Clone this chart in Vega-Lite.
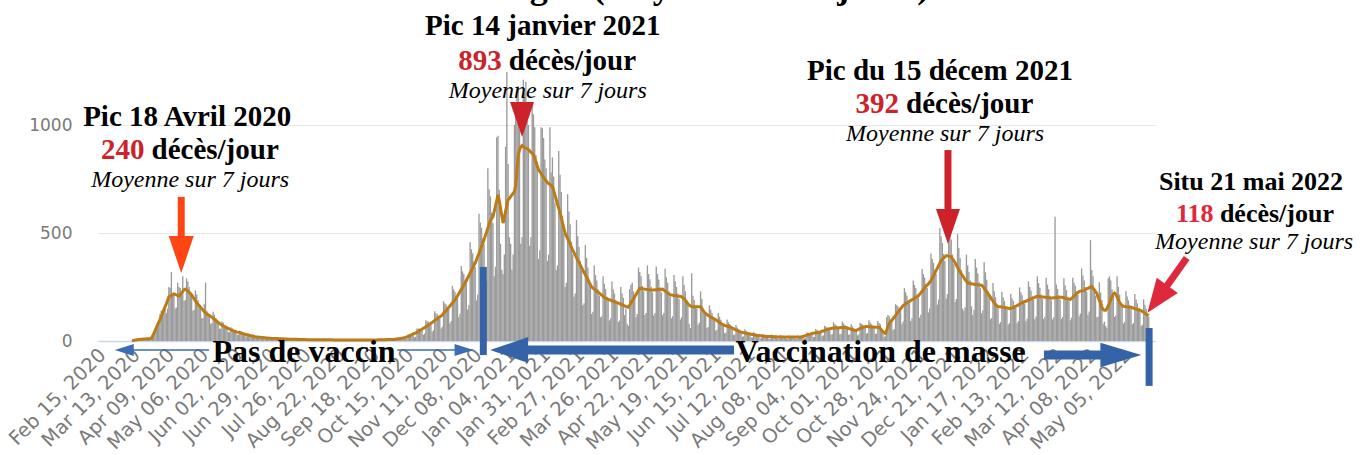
{
"$schema":"https://vega.github.io/schema/vega-lite/v6.json",
"width":1057,"height":270,
"autosize":{"type":"none"},
"padding":{"left":98,"top":71,"right":206,"bottom":114},
"background":"white",
"config":{"view":{"stroke":null}},
"datasets":{
"daily":[
{"d":"2020-03-09","v":2,"a":1},{"d":"2020-03-10","v":1,"a":2},{"d":"2020-03-11","v":3,"a":4},{"d":"2020-03-12","v":5,"a":5},{"d":"2020-03-13","v":8,"a":6},{"d":"2020-03-14","v":6,"a":7},{"d":"2020-03-15","v":5,"a":7},{"d":"2020-03-16","v":6,"a":8},{"d":"2020-03-17","v":10,"a":8},{"d":"2020-03-18","v":11,"a":9},{"d":"2020-03-19","v":10,"a":9},{"d":"2020-03-20","v":10,"a":9},{"d":"2020-03-21","v":10,"a":10},{"d":"2020-03-22","v":8,"a":10},{"d":"2020-03-23","v":9,"a":10},{"d":"2020-03-24","v":18,"a":14},{"d":"2020-03-25","v":28,"a":20},{"d":"2020-03-26","v":40,"a":33},{"d":"2020-03-27","v":55,"a":46},{"d":"2020-03-28","v":68,"a":60},{"d":"2020-03-29","v":60,"a":73},{"d":"2020-03-30","v":75,"a":86},{"d":"2020-03-31","v":125,"a":99},
{"d":"2020-04-01","v":140,"a":112},{"d":"2020-04-02","v":145,"a":128},{"d":"2020-04-03","v":150,"a":143},{"d":"2020-04-04","v":165,"a":158},{"d":"2020-04-05","v":130,"a":172},{"d":"2020-04-06","v":150,"a":187},{"d":"2020-04-07","v":250,"a":205},{"d":"2020-04-08","v":245,"a":208},{"d":"2020-04-09","v":320,"a":211},{"d":"2020-04-10","v":215,"a":215},{"d":"2020-04-11","v":210,"a":218},{"d":"2020-04-12","v":150,"a":216},{"d":"2020-04-13","v":155,"a":213},{"d":"2020-04-14","v":270,"a":210},{"d":"2020-04-15","v":250,"a":208},{"d":"2020-04-16","v":245,"a":215},{"d":"2020-04-17","v":230,"a":222},{"d":"2020-04-18","v":300,"a":230},{"d":"2020-04-19","v":185,"a":237},{"d":"2020-04-20","v":190,"a":240},{"d":"2020-04-21","v":290,"a":236},{"d":"2020-04-22","v":275,"a":231},{"d":"2020-04-23","v":250,"a":226},{"d":"2020-04-24","v":225,"a":220},{"d":"2020-04-25","v":205,"a":213},{"d":"2020-04-26","v":140,"a":204},{"d":"2020-04-27","v":145,"a":195},{"d":"2020-04-28","v":235,"a":186},{"d":"2020-04-29","v":215,"a":176},{"d":"2020-04-30","v":190,"a":170},
{"d":"2020-05-01","v":165,"a":164},{"d":"2020-05-02","v":155,"a":157},{"d":"2020-05-03","v":105,"a":150},{"d":"2020-05-04","v":105,"a":143},{"d":"2020-05-05","v":170,"a":136},{"d":"2020-05-06","v":270,"a":130},{"d":"2020-05-07","v":140,"a":126},{"d":"2020-05-08","v":120,"a":122},{"d":"2020-05-09","v":118,"a":118},{"d":"2020-05-10","v":80,"a":114},{"d":"2020-05-11","v":82,"a":110},{"d":"2020-05-12","v":135,"a":106},{"d":"2020-05-13","v":122,"a":101},{"d":"2020-05-14","v":105,"a":96},{"d":"2020-05-15","v":91,"a":91},{"d":"2020-05-16","v":86,"a":86},{"d":"2020-05-17","v":57,"a":81},{"d":"2020-05-18","v":58,"a":77},{"d":"2020-05-19","v":92,"a":73},{"d":"2020-05-20","v":84,"a":70},{"d":"2020-05-21","v":74,"a":67},{"d":"2020-05-22","v":64,"a":64},{"d":"2020-05-23","v":61,"a":61},{"d":"2020-05-24","v":41,"a":58},{"d":"2020-05-25","v":41,"a":55},{"d":"2020-05-26","v":64,"a":51},{"d":"2020-05-27","v":59,"a":49},{"d":"2020-05-28","v":52,"a":47},{"d":"2020-05-29","v":45,"a":45},{"d":"2020-05-30","v":43,"a":43},{"d":"2020-05-31","v":29,"a":41},
{"d":"2020-06-01","v":30,"a":40},{"d":"2020-06-02","v":49,"a":39},{"d":"2020-06-03","v":44,"a":37},{"d":"2020-06-04","v":39,"a":35},{"d":"2020-06-05","v":34,"a":34},{"d":"2020-06-06","v":32,"a":32},{"d":"2020-06-07","v":21,"a":30},{"d":"2020-06-08","v":22,"a":29},{"d":"2020-06-09","v":34,"a":27},{"d":"2020-06-10","v":31,"a":26},{"d":"2020-06-11","v":26,"a":24},{"d":"2020-06-12","v":23,"a":23},{"d":"2020-06-13","v":22,"a":22},{"d":"2020-06-14","v":14,"a":20},{"d":"2020-06-15","v":14,"a":19},{"d":"2020-06-16","v":24,"a":19},{"d":"2020-06-17","v":22,"a":18},{"d":"2020-06-18","v":19,"a":17},{"d":"2020-06-19","v":16,"a":16},{"d":"2020-06-20","v":16,"a":16},{"d":"2020-06-21","v":10,"a":15},{"d":"2020-06-22","v":11,"a":15},{"d":"2020-06-23","v":18,"a":14},{"d":"2020-06-24","v":17,"a":14},{"d":"2020-06-25","v":14,"a":13},{"d":"2020-06-26","v":13,"a":13},{"d":"2020-06-27","v":12,"a":12},{"d":"2020-06-28","v":8,"a":12},{"d":"2020-06-29","v":9,"a":12},{"d":"2020-06-30","v":14,"a":11},
{"d":"2020-07-01","v":13,"a":11},{"d":"2020-07-02","v":12,"a":11},{"d":"2020-07-03","v":10,"a":10},{"d":"2020-07-04","v":10,"a":10},{"d":"2020-07-05","v":7,"a":10},{"d":"2020-07-06","v":7,"a":10},{"d":"2020-07-07","v":12,"a":9},{"d":"2020-07-08","v":11,"a":9},{"d":"2020-07-09","v":10,"a":9},{"d":"2020-07-10","v":9,"a":9},{"d":"2020-07-11","v":8,"a":8},{"d":"2020-07-12","v":5,"a":8},{"d":"2020-07-13","v":6,"a":8},{"d":"2020-07-14","v":10,"a":8},{"d":"2020-07-15","v":10,"a":8},{"d":"2020-07-16","v":9,"a":8},{"d":"2020-07-17","v":8,"a":8},{"d":"2020-07-18","v":7,"a":7},{"d":"2020-07-19","v":5,"a":7},{"d":"2020-07-20","v":5,"a":7},{"d":"2020-07-21","v":9,"a":7},{"d":"2020-07-22","v":8,"a":7},{"d":"2020-07-23","v":8,"a":7},{"d":"2020-07-24","v":7,"a":7},{"d":"2020-07-25","v":6,"a":6},{"d":"2020-07-26","v":4,"a":6},{"d":"2020-07-27","v":4,"a":6},{"d":"2020-07-28","v":8,"a":6},{"d":"2020-07-29","v":7,"a":6},{"d":"2020-07-30","v":7,"a":6},{"d":"2020-07-31","v":6,"a":6},
{"d":"2020-08-01","v":6,"a":6},{"d":"2020-08-02","v":4,"a":6},{"d":"2020-08-03","v":4,"a":6},{"d":"2020-08-04","v":8,"a":6},{"d":"2020-08-05","v":7,"a":6},{"d":"2020-08-06","v":7,"a":6},{"d":"2020-08-07","v":6,"a":6},{"d":"2020-08-08","v":6,"a":6},{"d":"2020-08-09","v":4,"a":6},{"d":"2020-08-10","v":4,"a":6},{"d":"2020-08-11","v":8,"a":6},{"d":"2020-08-12","v":7,"a":6},{"d":"2020-08-13","v":7,"a":6},{"d":"2020-08-14","v":6,"a":6},{"d":"2020-08-15","v":5,"a":5},{"d":"2020-08-16","v":3,"a":5},{"d":"2020-08-17","v":4,"a":5},{"d":"2020-08-18","v":7,"a":5},{"d":"2020-08-19","v":6,"a":5},{"d":"2020-08-20","v":6,"a":5},{"d":"2020-08-21","v":4,"a":5},{"d":"2020-08-22","v":5,"a":5},{"d":"2020-08-23","v":3,"a":5},{"d":"2020-08-24","v":4,"a":5},{"d":"2020-08-25","v":7,"a":5},{"d":"2020-08-26","v":6,"a":5},{"d":"2020-08-27","v":6,"a":5},{"d":"2020-08-28","v":4,"a":5},{"d":"2020-08-29","v":5,"a":5},{"d":"2020-08-30","v":3,"a":5},{"d":"2020-08-31","v":4,"a":5},
{"d":"2020-09-01","v":7,"a":5},{"d":"2020-09-02","v":6,"a":5},{"d":"2020-09-03","v":6,"a":5},{"d":"2020-09-04","v":4,"a":5},{"d":"2020-09-05","v":5,"a":5},{"d":"2020-09-06","v":3,"a":5},{"d":"2020-09-07","v":4,"a":5},{"d":"2020-09-08","v":7,"a":5},{"d":"2020-09-09","v":6,"a":5},{"d":"2020-09-10","v":6,"a":5},{"d":"2020-09-11","v":4,"a":5},{"d":"2020-09-12","v":5,"a":5},{"d":"2020-09-13","v":3,"a":5},{"d":"2020-09-14","v":4,"a":5},{"d":"2020-09-15","v":7,"a":5},{"d":"2020-09-16","v":6,"a":5},{"d":"2020-09-17","v":6,"a":5},{"d":"2020-09-18","v":4,"a":5},{"d":"2020-09-19","v":6,"a":6},{"d":"2020-09-20","v":4,"a":6},{"d":"2020-09-21","v":4,"a":6},{"d":"2020-09-22","v":8,"a":6},{"d":"2020-09-23","v":7,"a":6},{"d":"2020-09-24","v":7,"a":6},{"d":"2020-09-25","v":6,"a":6},{"d":"2020-09-26","v":7,"a":7},{"d":"2020-09-27","v":5,"a":7},{"d":"2020-09-28","v":5,"a":7},{"d":"2020-09-29","v":9,"a":7},{"d":"2020-09-30","v":8,"a":7},
{"d":"2020-10-01","v":8,"a":7},{"d":"2020-10-02","v":7,"a":7},{"d":"2020-10-03","v":8,"a":8},{"d":"2020-10-04","v":4,"a":9},{"d":"2020-10-05","v":5,"a":10},{"d":"2020-10-06","v":16,"a":11},{"d":"2020-10-07","v":16,"a":12},{"d":"2020-10-08","v":16,"a":13},{"d":"2020-10-09","v":15,"a":14},{"d":"2020-10-10","v":14,"a":15},{"d":"2020-10-11","v":8,"a":17},{"d":"2020-10-12","v":10,"a":19},{"d":"2020-10-13","v":30,"a":21},{"d":"2020-10-14","v":31,"a":24},{"d":"2020-10-15","v":32,"a":27},{"d":"2020-10-16","v":32,"a":30},{"d":"2020-10-17","v":31,"a":33},{"d":"2020-10-18","v":17,"a":35},{"d":"2020-10-19","v":20,"a":37},{"d":"2020-10-20","v":58,"a":40},{"d":"2020-10-21","v":57,"a":44},{"d":"2020-10-22","v":58,"a":48},{"d":"2020-10-23","v":54,"a":51},{"d":"2020-10-24","v":52,"a":55},{"d":"2020-10-25","v":29,"a":59},{"d":"2020-10-26","v":34,"a":62},{"d":"2020-10-27","v":96,"a":66},{"d":"2020-10-28","v":91,"a":70},{"d":"2020-10-29","v":89,"a":74},{"d":"2020-10-30","v":82,"a":78},{"d":"2020-10-31","v":78,"a":82},
{"d":"2020-11-01","v":43,"a":86},{"d":"2020-11-02","v":50,"a":90},{"d":"2020-11-03","v":138,"a":95},{"d":"2020-11-04","v":129,"a":99},{"d":"2020-11-05","v":124,"a":103},{"d":"2020-11-06","v":113,"a":108},{"d":"2020-11-07","v":106,"a":112},{"d":"2020-11-08","v":58,"a":116},{"d":"2020-11-09","v":66,"a":120},{"d":"2020-11-10","v":184,"a":127},{"d":"2020-11-11","v":174,"a":134},{"d":"2020-11-12","v":169,"a":141},{"d":"2020-11-13","v":155,"a":148},{"d":"2020-11-14","v":147,"a":155},{"d":"2020-11-15","v":81,"a":162},{"d":"2020-11-16","v":93,"a":169},{"d":"2020-11-17","v":255,"a":176},{"d":"2020-11-18","v":238,"a":183},{"d":"2020-11-19","v":228,"a":190},{"d":"2020-11-20","v":210,"a":200},{"d":"2020-11-21","v":199,"a":209},{"d":"2020-11-22","v":110,"a":219},{"d":"2020-11-23","v":126,"a":229},{"d":"2020-11-24","v":347,"a":239},{"d":"2020-11-25","v":322,"a":248},{"d":"2020-11-26","v":310,"a":258},{"d":"2020-11-27","v":281,"a":268},{"d":"2020-11-28","v":266,"a":280},{"d":"2020-11-29","v":146,"a":292},{"d":"2020-11-30","v":167,"a":303},
{"d":"2020-12-01","v":457,"a":315},{"d":"2020-12-02","v":425,"a":327},{"d":"2020-12-03","v":406,"a":338},{"d":"2020-12-04","v":368,"a":350},{"d":"2020-12-05","v":343,"a":361},{"d":"2020-12-06","v":188,"a":376},{"d":"2020-12-07","v":215,"a":391},{"d":"2020-12-08","v":589,"a":406},{"d":"2020-12-09","v":549,"a":422},{"d":"2020-12-10","v":524,"a":437},{"d":"2020-12-11","v":476,"a":453},{"d":"2020-12-12","v":447,"a":470},{"d":"2020-12-13","v":244,"a":488},{"d":"2020-12-14","v":278,"a":505},{"d":"2020-12-15","v":800,"a":523},{"d":"2020-12-16","v":702,"a":540},{"d":"2020-12-17","v":670,"a":558},{"d":"2020-12-18","v":594,"a":566},{"d":"2020-12-19","v":546,"a":575},{"d":"2020-12-20","v":300,"a":600},{"d":"2020-12-21","v":344,"a":625},{"d":"2020-12-22","v":943,"a":650},{"d":"2020-12-23","v":950,"a":677},{"d":"2020-12-24","v":700,"a":650},{"d":"2020-12-25","v":450,"a":615},{"d":"2020-12-26","v":330,"a":580},{"d":"2020-12-27","v":310,"a":546},{"d":"2020-12-28","v":400,"a":570},{"d":"2020-12-29","v":900,"a":600},{"d":"2020-12-30","v":1245,"a":628},{"d":"2020-12-31","v":820,"a":654},
{"d":"2021-01-01","v":480,"a":660},{"d":"2021-01-02","v":450,"a":668},{"d":"2021-01-03","v":330,"a":676},{"d":"2021-01-04","v":400,"a":684},{"d":"2021-01-05","v":1000,"a":693},{"d":"2021-01-06","v":1050,"a":720},{"d":"2021-01-07","v":1150,"a":790},{"d":"2021-01-08","v":1180,"a":860},{"d":"2021-01-09","v":980,"a":886},{"d":"2021-01-10","v":450,"a":898},{"d":"2021-01-11","v":480,"a":905},{"d":"2021-01-12","v":1210,"a":900},{"d":"2021-01-13","v":1150,"a":896},{"d":"2021-01-14","v":1200,"a":893},{"d":"2021-01-15","v":1100,"a":890},{"d":"2021-01-16","v":1000,"a":886},{"d":"2021-01-17","v":440,"a":880},{"d":"2021-01-18","v":480,"a":874},{"d":"2021-01-19","v":1090,"a":869},{"d":"2021-01-20","v":1050,"a":863},{"d":"2021-01-21","v":990,"a":845},{"d":"2021-01-22","v":860,"a":828},{"d":"2021-01-23","v":830,"a":810},{"d":"2021-01-24","v":380,"a":793},{"d":"2021-01-25","v":420,"a":784},{"d":"2021-01-26","v":990,"a":776},{"d":"2021-01-27","v":985,"a":767},{"d":"2021-01-28","v":940,"a":758},{"d":"2021-01-29","v":840,"a":750},{"d":"2021-01-30","v":800,"a":742},{"d":"2021-01-31","v":370,"a":733},
{"d":"2021-02-01","v":400,"a":729},{"d":"2021-02-02","v":990,"a":725},{"d":"2021-02-03","v":780,"a":720},{"d":"2021-02-04","v":850,"a":716},{"d":"2021-02-05","v":760,"a":696},{"d":"2021-02-06","v":640,"a":675},{"d":"2021-02-07","v":330,"a":655},{"d":"2021-02-08","v":350,"a":634},{"d":"2021-02-09","v":880,"a":614},{"d":"2021-02-10","v":770,"a":593},{"d":"2021-02-11","v":690,"a":570},{"d":"2021-02-12","v":580,"a":547},{"d":"2021-02-13","v":500,"a":523},{"d":"2021-02-14","v":250,"a":500},{"d":"2021-02-15","v":270,"a":487},{"d":"2021-02-16","v":680,"a":474},{"d":"2021-02-17","v":600,"a":461},{"d":"2021-02-18","v":540,"a":447},{"d":"2021-02-19","v":460,"a":434},{"d":"2021-02-20","v":400,"a":421},{"d":"2021-02-21","v":205,"a":409},{"d":"2021-02-22","v":220,"a":398},{"d":"2021-02-23","v":560,"a":386},{"d":"2021-02-24","v":485,"a":374},{"d":"2021-02-25","v":435,"a":363},{"d":"2021-02-26","v":370,"a":351},{"d":"2021-02-27","v":325,"a":340},{"d":"2021-02-28","v":165,"a":328},
{"d":"2021-03-01","v":175,"a":317},{"d":"2021-03-02","v":445,"a":306},{"d":"2021-03-03","v":385,"a":295},{"d":"2021-03-04","v":340,"a":284},{"d":"2021-03-05","v":285,"a":272},{"d":"2021-03-06","v":250,"a":261},{"d":"2021-03-07","v":125,"a":250},{"d":"2021-03-08","v":135,"a":245},{"d":"2021-03-09","v":350,"a":240},{"d":"2021-03-10","v":305,"a":236},{"d":"2021-03-11","v":280,"a":231},{"d":"2021-03-12","v":240,"a":226},{"d":"2021-03-13","v":210,"a":221},{"d":"2021-03-14","v":110,"a":217},{"d":"2021-03-15","v":115,"a":212},{"d":"2021-03-16","v":300,"a":207},{"d":"2021-03-17","v":265,"a":202},{"d":"2021-03-18","v":240,"a":198},{"d":"2021-03-19","v":205,"a":196},{"d":"2021-03-20","v":185,"a":193},{"d":"2021-03-21","v":95,"a":191},{"d":"2021-03-22","v":105,"a":189},{"d":"2021-03-23","v":275,"a":186},{"d":"2021-03-24","v":240,"a":184},{"d":"2021-03-25","v":220,"a":182},{"d":"2021-03-26","v":190,"a":179},{"d":"2021-03-27","v":170,"a":177},{"d":"2021-03-28","v":88,"a":175},{"d":"2021-03-29","v":95,"a":173},{"d":"2021-03-30","v":250,"a":170},{"d":"2021-03-31","v":220,"a":168},
{"d":"2021-04-01","v":200,"a":165},{"d":"2021-04-02","v":120,"a":163},{"d":"2021-04-03","v":150,"a":160},{"d":"2021-04-04","v":80,"a":158},{"d":"2021-04-05","v":70,"a":156},{"d":"2021-04-06","v":240,"a":166},{"d":"2021-04-07","v":260,"a":176},{"d":"2021-04-08","v":270,"a":186},{"d":"2021-04-09","v":230,"a":195},{"d":"2021-04-10","v":200,"a":205},{"d":"2021-04-11","v":110,"a":215},{"d":"2021-04-12","v":125,"a":225},{"d":"2021-04-13","v":340,"a":235},{"d":"2021-04-14","v":320,"a":244},{"d":"2021-04-15","v":300,"a":243},{"d":"2021-04-16","v":255,"a":242},{"d":"2021-04-17","v":230,"a":241},{"d":"2021-04-18","v":120,"a":240},{"d":"2021-04-19","v":130,"a":239},{"d":"2021-04-20","v":350,"a":238},{"d":"2021-04-21","v":310,"a":237},{"d":"2021-04-22","v":285,"a":236},{"d":"2021-04-23","v":250,"a":235},{"d":"2021-04-24","v":225,"a":236},{"d":"2021-04-25","v":118,"a":236},{"d":"2021-04-26","v":130,"a":237},{"d":"2021-04-27","v":345,"a":237},{"d":"2021-04-28","v":310,"a":238},{"d":"2021-04-29","v":285,"a":238},{"d":"2021-04-30","v":250,"a":239},
{"d":"2021-05-01","v":225,"a":239},{"d":"2021-05-02","v":120,"a":240},{"d":"2021-05-03","v":130,"a":236},{"d":"2021-05-04","v":335,"a":232},{"d":"2021-05-05","v":295,"a":227},{"d":"2021-05-06","v":270,"a":223},{"d":"2021-05-07","v":230,"a":218},{"d":"2021-05-08","v":205,"a":214},{"d":"2021-05-09","v":105,"a":213},{"d":"2021-05-10","v":115,"a":212},{"d":"2021-05-11","v":305,"a":211},{"d":"2021-05-12","v":275,"a":210},{"d":"2021-05-13","v":250,"a":209},{"d":"2021-05-14","v":220,"a":208},{"d":"2021-05-15","v":195,"a":207},{"d":"2021-05-16","v":100,"a":206},{"d":"2021-05-17","v":110,"a":205},{"d":"2021-05-18","v":300,"a":200},{"d":"2021-05-19","v":260,"a":195},{"d":"2021-05-20","v":230,"a":188},{"d":"2021-05-21","v":190,"a":180},{"d":"2021-05-22","v":165,"a":172},{"d":"2021-05-23","v":80,"a":166},{"d":"2021-05-24","v":60,"a":162},{"d":"2021-05-25","v":314,"a":160},{"d":"2021-05-26","v":210,"a":159},{"d":"2021-05-27","v":190,"a":159},{"d":"2021-05-28","v":165,"a":158},{"d":"2021-05-29","v":150,"a":158},{"d":"2021-05-30","v":75,"a":158},{"d":"2021-05-31","v":85,"a":158},
{"d":"2021-06-01","v":230,"a":158},{"d":"2021-06-02","v":195,"a":150},{"d":"2021-06-03","v":150,"a":142},{"d":"2021-06-04","v":140,"a":133},{"d":"2021-06-05","v":120,"a":128},{"d":"2021-06-06","v":60,"a":123},{"d":"2021-06-07","v":65,"a":118},{"d":"2021-06-08","v":165,"a":114},{"d":"2021-06-09","v":145,"a":110},{"d":"2021-06-10","v":130,"a":108},{"d":"2021-06-11","v":110,"a":105},{"d":"2021-06-12","v":97,"a":102},{"d":"2021-06-13","v":49,"a":98},{"d":"2021-06-14","v":52,"a":94},{"d":"2021-06-15","v":130,"a":90},{"d":"2021-06-16","v":112,"a":86},{"d":"2021-06-17","v":98,"a":82},{"d":"2021-06-18","v":82,"a":78},{"d":"2021-06-19","v":71,"a":75},{"d":"2021-06-20","v":36,"a":72},{"d":"2021-06-21","v":38,"a":70},{"d":"2021-06-22","v":99,"a":68},{"d":"2021-06-23","v":87,"a":67},{"d":"2021-06-24","v":79,"a":66},{"d":"2021-06-25","v":66,"a":63},{"d":"2021-06-26","v":57,"a":60},{"d":"2021-06-27","v":28,"a":57},{"d":"2021-06-28","v":30,"a":54},{"d":"2021-06-29","v":74,"a":51},{"d":"2021-06-30","v":62,"a":48},
{"d":"2021-07-01","v":55,"a":46},{"d":"2021-07-02","v":45,"a":43},{"d":"2021-07-03","v":39,"a":41},{"d":"2021-07-04","v":20,"a":39},{"d":"2021-07-05","v":21,"a":38},{"d":"2021-07-06","v":54,"a":37},{"d":"2021-07-07","v":47,"a":36},{"d":"2021-07-08","v":42,"a":35},{"d":"2021-07-09","v":36,"a":34},{"d":"2021-07-10","v":30,"a":32},{"d":"2021-07-11","v":16,"a":31},{"d":"2021-07-12","v":17,"a":30},{"d":"2021-07-13","v":42,"a":29},{"d":"2021-07-14","v":36,"a":28},{"d":"2021-07-15","v":32,"a":27},{"d":"2021-07-16","v":27,"a":26},{"d":"2021-07-17","v":24,"a":25},{"d":"2021-07-18","v":12,"a":24},{"d":"2021-07-19","v":13,"a":23},{"d":"2021-07-20","v":33,"a":23},{"d":"2021-07-21","v":29,"a":22},{"d":"2021-07-22","v":26,"a":22},{"d":"2021-07-23","v":22,"a":21},{"d":"2021-07-24","v":20,"a":21},{"d":"2021-07-25","v":10,"a":21},{"d":"2021-07-26","v":12,"a":21},{"d":"2021-07-27","v":30,"a":21},{"d":"2021-07-28","v":26,"a":20},{"d":"2021-07-29","v":24,"a":20},{"d":"2021-07-30","v":21,"a":20},{"d":"2021-07-31","v":19,"a":20},
{"d":"2021-08-01","v":10,"a":19},{"d":"2021-08-02","v":10,"a":19},{"d":"2021-08-03","v":28,"a":19},{"d":"2021-08-04","v":25,"a":19},{"d":"2021-08-05","v":23,"a":19},{"d":"2021-08-06","v":20,"a":19},{"d":"2021-08-07","v":17,"a":18},{"d":"2021-08-08","v":9,"a":18},{"d":"2021-08-09","v":10,"a":18},{"d":"2021-08-10","v":26,"a":18},{"d":"2021-08-11","v":23,"a":18},{"d":"2021-08-12","v":22,"a":18},{"d":"2021-08-13","v":19,"a":18},{"d":"2021-08-14","v":17,"a":18},{"d":"2021-08-15","v":9,"a":18},{"d":"2021-08-16","v":10,"a":18},{"d":"2021-08-17","v":26,"a":18},{"d":"2021-08-18","v":23,"a":18},{"d":"2021-08-19","v":23,"a":19},{"d":"2021-08-20","v":21,"a":20},{"d":"2021-08-21","v":21,"a":22},{"d":"2021-08-22","v":12,"a":23},{"d":"2021-08-23","v":14,"a":25},{"d":"2021-08-24","v":39,"a":27},{"d":"2021-08-25","v":38,"a":29},{"d":"2021-08-26","v":37,"a":31},{"d":"2021-08-27","v":35,"a":33},{"d":"2021-08-28","v":33,"a":35},{"d":"2021-08-29","v":18,"a":36},{"d":"2021-08-30","v":20,"a":37},{"d":"2021-08-31","v":55,"a":38},
{"d":"2021-09-01","v":51,"a":39},{"d":"2021-09-02","v":48,"a":40},{"d":"2021-09-03","v":43,"a":41},{"d":"2021-09-04","v":41,"a":43},{"d":"2021-09-05","v":22,"a":45},{"d":"2021-09-06","v":26,"a":47},{"d":"2021-09-07","v":71,"a":49},{"d":"2021-09-08","v":66,"a":51},{"d":"2021-09-09","v":64,"a":53},{"d":"2021-09-10","v":58,"a":55},{"d":"2021-09-11","v":54,"a":57},{"d":"2021-09-12","v":29,"a":58},{"d":"2021-09-13","v":32,"a":59},{"d":"2021-09-14","v":87,"a":60},{"d":"2021-09-15","v":78,"a":60},{"d":"2021-09-16","v":73,"a":61},{"d":"2021-09-17","v":64,"a":61},{"d":"2021-09-18","v":58,"a":61},{"d":"2021-09-19","v":31,"a":61},{"d":"2021-09-20","v":34,"a":62},{"d":"2021-09-21","v":90,"a":62},{"d":"2021-09-22","v":81,"a":62},{"d":"2021-09-23","v":74,"a":62},{"d":"2021-09-24","v":65,"a":62},{"d":"2021-09-25","v":57,"a":60},{"d":"2021-09-26","v":29,"a":58},{"d":"2021-09-27","v":31,"a":56},{"d":"2021-09-28","v":78,"a":54},{"d":"2021-09-29","v":68,"a":52},{"d":"2021-09-30","v":60,"a":50},
{"d":"2021-10-01","v":51,"a":49},{"d":"2021-10-02","v":47,"a":49},{"d":"2021-10-03","v":26,"a":52},{"d":"2021-10-04","v":30,"a":55},{"d":"2021-10-05","v":84,"a":58},{"d":"2021-10-06","v":79,"a":61},{"d":"2021-10-07","v":76,"a":63},{"d":"2021-10-08","v":68,"a":65},{"d":"2021-10-09","v":63,"a":66},{"d":"2021-10-10","v":34,"a":67},{"d":"2021-10-11","v":37,"a":67},{"d":"2021-10-12","v":96,"a":66},{"d":"2021-10-13","v":86,"a":66},{"d":"2021-10-14","v":78,"a":65},{"d":"2021-10-15","v":68,"a":65},{"d":"2021-10-16","v":62,"a":65},{"d":"2021-10-17","v":32,"a":64},{"d":"2021-10-18","v":35,"a":64},{"d":"2021-10-19","v":93,"a":64},{"d":"2021-10-20","v":83,"a":64},{"d":"2021-10-21","v":77,"a":58},{"d":"2021-10-22","v":50,"a":50},{"d":"2021-10-23","v":40,"a":44},{"d":"2021-10-24","v":20,"a":38},{"d":"2021-10-25","v":22,"a":35},{"d":"2021-10-26","v":110,"a":50},{"d":"2021-10-27","v":120,"a":65},{"d":"2021-10-28","v":115,"a":80},{"d":"2021-10-29","v":100,"a":90},{"d":"2021-10-30","v":95,"a":95},{"d":"2021-10-31","v":50,"a":103},
{"d":"2021-11-01","v":55,"a":110},{"d":"2021-11-02","v":170,"a":118},{"d":"2021-11-03","v":165,"a":126},{"d":"2021-11-04","v":160,"a":134},{"d":"2021-11-05","v":150,"a":142},{"d":"2021-11-06","v":140,"a":149},{"d":"2021-11-07","v":78,"a":157},{"d":"2021-11-08","v":90,"a":164},{"d":"2021-11-09","v":245,"a":168},{"d":"2021-11-10","v":225,"a":172},{"d":"2021-11-11","v":210,"a":176},{"d":"2021-11-12","v":190,"a":180},{"d":"2021-11-13","v":174,"a":183},{"d":"2021-11-14","v":93,"a":187},{"d":"2021-11-15","v":105,"a":191},{"d":"2021-11-16","v":280,"a":194},{"d":"2021-11-17","v":260,"a":198},{"d":"2021-11-18","v":245,"a":202},{"d":"2021-11-19","v":215,"a":205},{"d":"2021-11-20","v":200,"a":209},{"d":"2021-11-21","v":108,"a":216},{"d":"2021-11-22","v":122,"a":223},{"d":"2021-11-23","v":333,"a":230},{"d":"2021-11-24","v":310,"a":238},{"d":"2021-11-25","v":294,"a":245},{"d":"2021-11-26","v":265,"a":252},{"d":"2021-11-27","v":245,"a":258},{"d":"2021-11-28","v":132,"a":265},{"d":"2021-11-29","v":150,"a":272},{"d":"2021-11-30","v":405,"a":279},
{"d":"2021-12-01","v":380,"a":291},{"d":"2021-12-02","v":362,"a":302},{"d":"2021-12-03","v":330,"a":314},{"d":"2021-12-04","v":310,"a":326},{"d":"2021-12-05","v":168,"a":337},{"d":"2021-12-06","v":192,"a":349},{"d":"2021-12-07","v":522,"a":360},{"d":"2021-12-08","v":484,"a":372},{"d":"2021-12-09","v":454,"a":378},{"d":"2021-12-10","v":403,"a":384},{"d":"2021-12-11","v":370,"a":389},{"d":"2021-12-12","v":197,"a":395},{"d":"2021-12-13","v":217,"a":395},{"d":"2021-12-14","v":570,"a":393},{"d":"2021-12-15","v":510,"a":392},{"d":"2021-12-16","v":470,"a":388},{"d":"2021-12-17","v":400,"a":380},{"d":"2021-12-18","v":355,"a":372},{"d":"2021-12-19","v":181,"a":362},{"d":"2021-12-20","v":194,"a":352},{"d":"2021-12-21","v":495,"a":341},{"d":"2021-12-22","v":430,"a":330},{"d":"2021-12-23","v":384,"a":320},{"d":"2021-12-24","v":327,"a":311},{"d":"2021-12-25","v":150,"a":302},{"d":"2021-12-26","v":140,"a":293},{"d":"2021-12-27","v":156,"a":284},{"d":"2021-12-28","v":400,"a":276},{"d":"2021-12-29","v":351,"a":270},{"d":"2021-12-30","v":320,"a":267},{"d":"2021-12-31","v":280,"a":266},
{"d":"2022-01-01","v":160,"a":265},{"d":"2022-01-02","v":120,"a":264},{"d":"2022-01-03","v":145,"a":263},{"d":"2022-01-04","v":380,"a":262},{"d":"2022-01-05","v":340,"a":261},{"d":"2022-01-06","v":312,"a":260},{"d":"2022-01-07","v":272,"a":259},{"d":"2022-01-08","v":245,"a":258},{"d":"2022-01-09","v":129,"a":258},{"d":"2022-01-10","v":142,"a":252},{"d":"2022-01-11","v":365,"a":244},{"d":"2022-01-12","v":318,"a":236},{"d":"2022-01-13","v":283,"a":228},{"d":"2022-01-14","v":231,"a":220},{"d":"2022-01-15","v":200,"a":211},{"d":"2022-01-16","v":101,"a":202},{"d":"2022-01-17","v":106,"a":193},{"d":"2022-01-18","v":268,"a":185},{"d":"2022-01-19","v":230,"a":177},{"d":"2022-01-20","v":203,"a":169},{"d":"2022-01-21","v":170,"a":162},{"d":"2022-01-22","v":152,"a":160},{"d":"2022-01-23","v":80,"a":159},{"d":"2022-01-24","v":87,"a":158},{"d":"2022-01-25","v":228,"a":157},{"d":"2022-01-26","v":203,"a":156},{"d":"2022-01-27","v":186,"a":155},{"d":"2022-01-28","v":162,"a":154},{"d":"2022-01-29","v":145,"a":153},{"d":"2022-01-30","v":76,"a":152},{"d":"2022-01-31","v":83,"a":151},
{"d":"2022-02-01","v":219,"a":151},{"d":"2022-02-02","v":198,"a":152},{"d":"2022-02-03","v":186,"a":155},{"d":"2022-02-04","v":166,"a":158},{"d":"2022-02-05","v":153,"a":161},{"d":"2022-02-06","v":82,"a":164},{"d":"2022-02-07","v":92,"a":167},{"d":"2022-02-08","v":248,"a":171},{"d":"2022-02-09","v":226,"a":174},{"d":"2022-02-10","v":212,"a":177},{"d":"2022-02-11","v":188,"a":179},{"d":"2022-02-12","v":173,"a":182},{"d":"2022-02-13","v":92,"a":184},{"d":"2022-02-14","v":103,"a":187},{"d":"2022-02-15","v":276,"a":190},{"d":"2022-02-16","v":250,"a":192},{"d":"2022-02-17","v":234,"a":195},{"d":"2022-02-18","v":207,"a":197},{"d":"2022-02-19","v":190,"a":200},{"d":"2022-02-20","v":101,"a":202},{"d":"2022-02-21","v":113,"a":205},{"d":"2022-02-22","v":300,"a":207},{"d":"2022-02-23","v":268,"a":206},{"d":"2022-02-24","v":247,"a":206},{"d":"2022-02-25","v":215,"a":205},{"d":"2022-02-26","v":194,"a":204},{"d":"2022-02-27","v":102,"a":204},{"d":"2022-02-28","v":112,"a":203},
{"d":"2022-03-01","v":293,"a":202},{"d":"2022-03-02","v":261,"a":201},{"d":"2022-03-03","v":240,"a":200},{"d":"2022-03-04","v":209,"a":199},{"d":"2022-03-05","v":189,"a":199},{"d":"2022-03-06","v":100,"a":199},{"d":"2022-03-07","v":110,"a":200},{"d":"2022-03-08","v":575,"a":200},{"d":"2022-03-09","v":262,"a":201},{"d":"2022-03-10","v":241,"a":201},{"d":"2022-03-11","v":212,"a":202},{"d":"2022-03-12","v":192,"a":202},{"d":"2022-03-13","v":102,"a":203},{"d":"2022-03-14","v":111,"a":201},{"d":"2022-03-15","v":290,"a":200},{"d":"2022-03-16","v":257,"a":198},{"d":"2022-03-17","v":236,"a":197},{"d":"2022-03-18","v":205,"a":195},{"d":"2022-03-19","v":184,"a":194},{"d":"2022-03-20","v":96,"a":192},{"d":"2022-03-21","v":108,"a":197},{"d":"2022-03-22","v":293,"a":202},{"d":"2022-03-23","v":270,"a":208},{"d":"2022-03-24","v":256,"a":213},{"d":"2022-03-25","v":230,"a":219},{"d":"2022-03-26","v":213,"a":224},{"d":"2022-03-27","v":115,"a":229},{"d":"2022-03-28","v":127,"a":231},{"d":"2022-03-29","v":336,"a":232},{"d":"2022-03-30","v":303,"a":233},{"d":"2022-03-31","v":281,"a":234},
{"d":"2022-04-01","v":250,"a":238},{"d":"2022-04-02","v":229,"a":241},{"d":"2022-04-03","v":122,"a":244},{"d":"2022-04-04","v":136,"a":247},{"d":"2022-04-05","v":467,"a":250},{"d":"2022-04-06","v":329,"a":253},{"d":"2022-04-07","v":300,"a":245},{"d":"2022-04-08","v":240,"a":237},{"d":"2022-04-09","v":210,"a":228},{"d":"2022-04-10","v":110,"a":220},{"d":"2022-04-11","v":112,"a":203},{"d":"2022-04-12","v":272,"a":188},{"d":"2022-04-13","v":224,"a":172},{"d":"2022-04-14","v":190,"a":157},{"d":"2022-04-15","v":80,"a":145},{"d":"2022-04-16","v":90,"a":142},{"d":"2022-04-17","v":70,"a":142},{"d":"2022-04-18","v":60,"a":150},{"d":"2022-04-19","v":290,"a":162},{"d":"2022-04-20","v":300,"a":174},{"d":"2022-04-21","v":280,"a":190},{"d":"2022-04-22","v":240,"a":206},{"d":"2022-04-23","v":210,"a":218},{"d":"2022-04-24","v":111,"a":222},{"d":"2022-04-25","v":118,"a":215},{"d":"2022-04-26","v":300,"a":205},{"d":"2022-04-27","v":250,"a":190},{"d":"2022-04-28","v":215,"a":178},{"d":"2022-04-29","v":180,"a":170},{"d":"2022-04-30","v":157,"a":165},
{"d":"2022-05-01","v":81,"a":161},{"d":"2022-05-02","v":88,"a":160},{"d":"2022-05-03","v":230,"a":159},{"d":"2022-05-04","v":206,"a":158},{"d":"2022-05-05","v":188,"a":157},{"d":"2022-05-06","v":165,"a":157},{"d":"2022-05-07","v":148,"a":156},{"d":"2022-05-08","v":77,"a":154},{"d":"2022-05-09","v":84,"a":152},{"d":"2022-05-10","v":218,"a":150},{"d":"2022-05-11","v":192,"a":148},{"d":"2022-05-12","v":175,"a":146},{"d":"2022-05-13","v":152,"a":145},{"d":"2022-05-14","v":136,"a":143},{"d":"2022-05-15","v":70,"a":140},{"d":"2022-05-16","v":75,"a":137},{"d":"2022-05-17","v":193,"a":133},{"d":"2022-05-18","v":168,"a":129},{"d":"2022-05-19","v":149,"a":124},{"d":"2022-05-20","v":127,"a":121},{"d":"2022-05-21","v":112,"a":118}
],
"notes":[
{"k":"tc","x":"2020-04-21T12:00Z","y":995,"t":"Pic 18 Avril 2020"},
{"k":"tc","x":"2021-01-27T10:00Z","y":1417,"t":"Pic 14 janvier 2021"},
{"k":"tc","x":"2021-12-07T03:00Z","y":1208,"t":"Pic du 15 décem 2021"},
{"k":"nr","x":"2020-03-18T21:00Z","y":843,"t":"240"},
{"k":"nr","x":"2020-12-25T22:00Z","y":1255,"t":"893"},
{"k":"nr","x":"2021-11-04T17:00Z","y":1056,"t":"392"},
{"k":"dl","x":"2020-03-24T08:00Z","y":843,"t":"décès/jour"},
{"k":"dl","x":"2020-12-31T14:00Z","y":1255,"t":"décès/jour"},
{"k":"dl","x":"2021-11-10T08:00Z","y":1056,"t":"décès/jour"},
{"k":"tc4","x":"2022-08-09T19:00Z","y":699,"t":"Situ 21 mai 2022"},
{"k":"nr4","x":"2022-07-11T03:00Z","y":551,"t":"118"},
{"k":"dl4","x":"2022-07-16T05:00Z","y":551,"t":"décès/jour"},
{"k":"mi","x":"2020-04-23T20:00Z","y":713,"t":"Moyenne sur 7 jours"},
{"k":"mi","x":"2021-01-31T07:00Z","y":1125,"t":"Moyenne sur 7 jours"},
{"k":"mi","x":"2021-12-11T03:00Z","y":926,"t":"Moyenne sur 7 jours"},
{"k":"mi","x":"2022-08-12T05:00Z","y":426,"t":"Moyenne sur 7 jours"},
{"k":"bb","x":"2020-07-22T19:00Z","y":-97,"t":"Pas de vaccin"},
{"k":"bb","x":"2021-10-21T05:00Z","y":-97,"t":"Vaccination de masse"},
{"k":"tt","x":"2021-11-28T14:00Z","y":1590,"t":"Décès en Allemagne (moyenne sur 7 jours)"},
{"k":"ro","x":"2020-04-16T19:00Z","y":667,"y2":468},
{"k":"rr","x":"2021-12-13T10:00Z","y":884,"y2":597},
{"k":"bv","x":"2020-12-11T10:00Z","y":343,"y2":-65},
{"k":"bv","x":"2022-05-21T07:00Z","y":60,"y2":-208},
{"k":"ld","g":1,"x":"2022-06-20T00:00Z","y":384},
{"k":"ld","g":1,"x":"2022-06-04T07:00Z","y":255},
{"k":"lbh","g":2,"x":"2021-01-15T17:00Z","y":-41.7},
{"k":"lbh","g":2,"x":"2021-06-27T10:00Z","y":-41.7},
{"k":"lbh","g":3,"x":"2022-02-27T07:00Z","y":-64.8},
{"k":"lbh","g":3,"x":"2022-04-13T17:00Z","y":-64.8},
{"k":"lbt","g":4,"x":"2020-03-07T03:00Z","y":-41.7},
{"k":"lbt","g":4,"x":"2020-05-08T17:00Z","y":-41.7},
{"k":"lbt","g":5,"x":"2020-10-04T10:00Z","y":-41.7},
{"k":"lbt","g":5,"x":"2020-11-20T07:00Z","y":-41.7},
{"k":"ho","x":"2020-04-16T19:00Z","y":400},
{"k":"hr","x":"2021-01-11T00:00Z","y":1025},
{"k":"hr","x":"2021-12-13T10:00Z","y":530},
{"k":"hd","x":"2022-05-27T19:00Z","y":194},
{"k":"hl","x":"2020-12-31T19:00Z","y":-41.7},
{"k":"hR","x":"2022-04-29T00:00Z","y":-64.8},
{"k":"sl","x":"2020-03-02T19:00Z","y":-41.7},
{"k":"sr","x":"2020-11-26T05:00Z","y":-41.7}
]
},
"layer":[
{"data":{"name":"daily"},
 "mark":{"type":"bar","width":1.35,"color":"#9b9b9b"},
 "encoding":{
  "x":{"field":"d","type":"temporal",
   "scale":{"type":"utc","nice":false,"domain":[{"year":2020,"month":2,"date":15,"utc":true},{"year":2022,"month":5,"date":22,"utc":true}]},
   "axis":{"title":null,"labelExpr":"utcFormat(datum.value, '%b %d, %Y')","labelAngle":-45,"labelFont":"DejaVu Sans","labelFontSize":19.5,"labelColor":"#7a7a7a","ticks":false,"grid":false,"domainColor":"#ccd6eb","domainWidth":1.5,"labelPadding":4,"labelOffset":-7,"labelOverlap":false,"labelSeparation":0,"labelFlush":false,"labelBound":false,"labelLimit":0,"tickCount":60,
    "values":[{"year":2020,"month":2,"date":15,"utc":true},{"year":2020,"month":3,"date":13,"utc":true},{"year":2020,"month":4,"date":9,"utc":true},{"year":2020,"month":5,"date":6,"utc":true},{"year":2020,"month":6,"date":2,"utc":true},{"year":2020,"month":6,"date":29,"utc":true},{"year":2020,"month":7,"date":26,"utc":true},{"year":2020,"month":8,"date":22,"utc":true},{"year":2020,"month":9,"date":18,"utc":true},{"year":2020,"month":10,"date":15,"utc":true},{"year":2020,"month":11,"date":11,"utc":true},{"year":2020,"month":12,"date":8,"utc":true},{"year":2021,"month":1,"date":4,"utc":true},{"year":2021,"month":1,"date":31,"utc":true},{"year":2021,"month":2,"date":27,"utc":true},{"year":2021,"month":3,"date":26,"utc":true},{"year":2021,"month":4,"date":22,"utc":true},{"year":2021,"month":5,"date":19,"utc":true},{"year":2021,"month":6,"date":15,"utc":true},{"year":2021,"month":7,"date":12,"utc":true},{"year":2021,"month":8,"date":8,"utc":true},{"year":2021,"month":9,"date":4,"utc":true},{"year":2021,"month":10,"date":1,"utc":true},{"year":2021,"month":10,"date":28,"utc":true},{"year":2021,"month":11,"date":24,"utc":true},{"year":2021,"month":12,"date":21,"utc":true},{"year":2022,"month":1,"date":17,"utc":true},{"year":2022,"month":2,"date":13,"utc":true},{"year":2022,"month":3,"date":12,"utc":true},{"year":2022,"month":4,"date":8,"utc":true},{"year":2022,"month":5,"date":5,"utc":true}]}},
  "y":{"field":"v","type":"quantitative","scale":{"domain":[0,1250],"nice":false,"zero":true},
   "axis":{"title":null,"values":[0,500,1000],"format":"d","grid":true,"gridColor":"#e6e6e6","domain":false,"ticks":false,"labelFont":"DejaVu Sans","labelFontSize":17,"labelColor":"#7a7a7a","labelPadding":26}}}},
{"data":{"name":"daily"},
 "mark":{"type":"line","color":"#bd7b16","strokeWidth":3},
 "encoding":{"x":{"field":"d","type":"temporal"},"y":{"field":"a","type":"quantitative"}}},
{"data":{"name":"notes"},"transform":[{"filter":"datum.k==='tt'"}],
 "mark":{"type":"text","font":"Liberation Serif","fontWeight":"bold","fontSize":36,"align":"right","baseline":"alphabetic","color":"#000"},
 "encoding":{"x":{"field":"x","type":"temporal"},"y":{"field":"y","type":"quantitative"},"text":{"field":"t"}}},
{"data":{"name":"notes"},"transform":[{"filter":"datum.k==='tc'"}],
 "mark":{"type":"text","font":"Liberation Serif","fontWeight":"bold","fontSize":29,"align":"center","baseline":"alphabetic","color":"#000"},
 "encoding":{"x":{"field":"x","type":"temporal"},"y":{"field":"y","type":"quantitative"},"text":{"field":"t"}}},
{"data":{"name":"notes"},"transform":[{"filter":"datum.k==='nr'"}],
 "mark":{"type":"text","font":"Liberation Serif","fontWeight":"bold","fontSize":29,"align":"right","baseline":"alphabetic","color":"#cc2229"},
 "encoding":{"x":{"field":"x","type":"temporal"},"y":{"field":"y","type":"quantitative"},"text":{"field":"t"}}},
{"data":{"name":"notes"},"transform":[{"filter":"datum.k==='dl'"}],
 "mark":{"type":"text","font":"Liberation Serif","fontWeight":"bold","fontSize":29,"align":"left","baseline":"alphabetic","color":"#000"},
 "encoding":{"x":{"field":"x","type":"temporal"},"y":{"field":"y","type":"quantitative"},"text":{"field":"t"}}},
{"data":{"name":"notes"},"transform":[{"filter":"datum.k==='tc4'"}],
 "mark":{"type":"text","font":"Liberation Serif","fontWeight":"bold","fontSize":26,"align":"center","baseline":"alphabetic","color":"#000"},
 "encoding":{"x":{"field":"x","type":"temporal"},"y":{"field":"y","type":"quantitative"},"text":{"field":"t"}}},
{"data":{"name":"notes"},"transform":[{"filter":"datum.k==='nr4'"}],
 "mark":{"type":"text","font":"Liberation Serif","fontWeight":"bold","fontSize":26,"align":"right","baseline":"alphabetic","color":"#e0283c"},
 "encoding":{"x":{"field":"x","type":"temporal"},"y":{"field":"y","type":"quantitative"},"text":{"field":"t"}}},
{"data":{"name":"notes"},"transform":[{"filter":"datum.k==='dl4'"}],
 "mark":{"type":"text","font":"Liberation Serif","fontWeight":"bold","fontSize":26,"align":"left","baseline":"alphabetic","color":"#000"},
 "encoding":{"x":{"field":"x","type":"temporal"},"y":{"field":"y","type":"quantitative"},"text":{"field":"t"}}},
{"data":{"name":"notes"},"transform":[{"filter":"datum.k==='mi'"}],
 "mark":{"type":"text","font":"Liberation Serif","fontStyle":"italic","fontSize":24,"align":"center","baseline":"alphabetic","color":"#000"},
 "encoding":{"x":{"field":"x","type":"temporal"},"y":{"field":"y","type":"quantitative"},"text":{"field":"t"}}},
{"data":{"name":"notes"},"transform":[{"filter":"datum.k==='bb'"}],
 "mark":{"type":"text","font":"Liberation Serif","fontWeight":"bold","fontSize":32,"align":"center","baseline":"alphabetic","color":"#000"},
 "encoding":{"x":{"field":"x","type":"temporal"},"y":{"field":"y","type":"quantitative"},"text":{"field":"t"}}},
{"data":{"name":"notes"},"transform":[{"filter":"datum.k==='ro'"}],
 "mark":{"type":"rule","color":"#ff4513","strokeWidth":7},
 "encoding":{"x":{"field":"x","type":"temporal"},"y":{"field":"y","type":"quantitative"},"y2":{"field":"y2"}}},
{"data":{"name":"notes"},"transform":[{"filter":"datum.k==='rr'"}],
 "mark":{"type":"rule","color":"#cc2229","strokeWidth":7},
 "encoding":{"x":{"field":"x","type":"temporal"},"y":{"field":"y","type":"quantitative"},"y2":{"field":"y2"}}},
{"data":{"name":"notes"},"transform":[{"filter":"datum.k==='bv'"}],
 "mark":{"type":"rule","color":"#3563a7","strokeWidth":7},
 "encoding":{"x":{"field":"x","type":"temporal"},"y":{"field":"y","type":"quantitative"},"y2":{"field":"y2"}}},
{"data":{"name":"notes"},"transform":[{"filter":"datum.k==='ld'"}],
 "mark":{"type":"line","color":"#e0283c","strokeWidth":7,"strokeCap":"butt"},
 "encoding":{"x":{"field":"x","type":"temporal"},"y":{"field":"y","type":"quantitative"},"detail":{"field":"g"}}},
{"data":{"name":"notes"},"transform":[{"filter":"datum.k==='lbh'"}],
 "mark":{"type":"line","color":"#3563a7","strokeWidth":9,"strokeCap":"butt"},
 "encoding":{"x":{"field":"x","type":"temporal"},"y":{"field":"y","type":"quantitative"},"detail":{"field":"g"}}},
{"data":{"name":"notes"},"transform":[{"filter":"datum.k==='lbt'"}],
 "mark":{"type":"line","color":"#3a6db5","strokeWidth":1.6,"strokeCap":"butt"},
 "encoding":{"x":{"field":"x","type":"temporal"},"y":{"field":"y","type":"quantitative"},"detail":{"field":"g"}}},
{"data":{"name":"notes"},"transform":[{"filter":"datum.k==='ho'"}],
 "mark":{"type":"point","filled":true,"opacity":1,"color":"#ff4513","shape":"M-1,-1.48L1,-1.48L0,1.48Z","size":625,"strokeWidth":0},
 "encoding":{"x":{"field":"x","type":"temporal"},"y":{"field":"y","type":"quantitative"}}},
{"data":{"name":"notes"},"transform":[{"filter":"datum.k==='hr'"}],
 "mark":{"type":"point","filled":true,"opacity":1,"color":"#cc2229","shape":"M-1,-1.46L1,-1.46L0,1.46Z","size":576,"strokeWidth":0},
 "encoding":{"x":{"field":"x","type":"temporal"},"y":{"field":"y","type":"quantitative"}}},
{"data":{"name":"notes"},"transform":[{"filter":"datum.k==='hd'"}],
 "mark":{"type":"point","filled":true,"opacity":1,"color":"#e0283c","shape":"M-1,-1.3L1,-1.3L0,1.3Z","size":676,"strokeWidth":0,"angle":36},
 "encoding":{"x":{"field":"x","type":"temporal"},"y":{"field":"y","type":"quantitative"}}},
{"data":{"name":"notes"},"transform":[{"filter":"datum.k==='hl'"}],
 "mark":{"type":"point","filled":true,"opacity":1,"color":"#3563a7","shape":"M1,-0.684L-1,0L1,0.684Z","size":1444,"strokeWidth":0},
 "encoding":{"x":{"field":"x","type":"temporal"},"y":{"field":"y","type":"quantitative"}}},
{"data":{"name":"notes"},"transform":[{"filter":"datum.k==='hR'"}],
 "mark":{"type":"point","filled":true,"opacity":1,"color":"#3563a7","shape":"M-1,-0.6L1,0L-1,0.6Z","size":1681,"strokeWidth":0},
 "encoding":{"x":{"field":"x","type":"temporal"},"y":{"field":"y","type":"quantitative"}}},
{"data":{"name":"notes"},"transform":[{"filter":"datum.k==='sl'"}],
 "mark":{"type":"point","filled":true,"opacity":1,"color":"#3a6db5","shape":"M1,-0.63L-1,0L1,0.63Z","size":361,"strokeWidth":0},
 "encoding":{"x":{"field":"x","type":"temporal"},"y":{"field":"y","type":"quantitative"}}},
{"data":{"name":"notes"},"transform":[{"filter":"datum.k==='sr'"}],
 "mark":{"type":"point","filled":true,"opacity":1,"color":"#3a6db5","shape":"M-1,-0.63L1,0L-1,0.63Z","size":361,"strokeWidth":0},
 "encoding":{"x":{"field":"x","type":"temporal"},"y":{"field":"y","type":"quantitative"}}}
]
}
